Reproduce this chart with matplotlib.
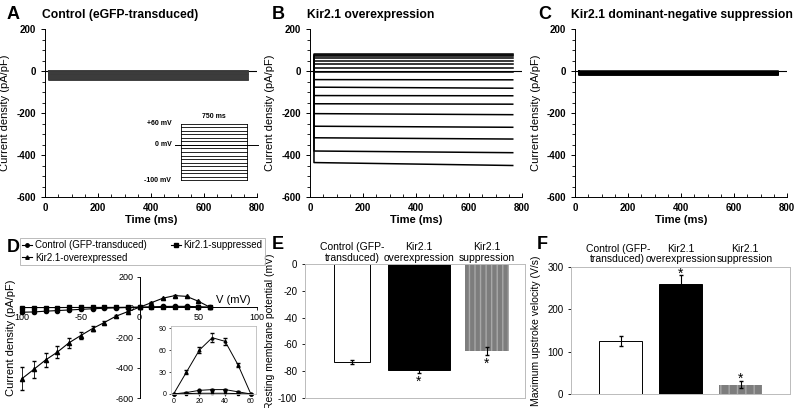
import matplotlib.pyplot as plt
import numpy as np
from matplotlib.ticker import MultipleLocator
from matplotlib.lines import Line2D

plt.rcParams['font.family'] = ['Liberation Sans', 'DejaVu Sans']
plt.rcParams['axes.unicode_minus'] = False

# voltage steps and current traces (pA/pF)
steps_mv = list(range(-100, 70, 10))
ctrl_trace = [-45, -42, -39, -36, -33, -30, -27, -24, -21, -18, -15, -12, -9, -6, -4, -2, 0]
kir_start = [-436, -381, -318, -263, -203, -156, -117, -77, -41, -3, 13, 33, 49, 61, 72, 77, 80]
kir_end = [-450, -389, -324, -268, -208, -158, -118, -82, -42, -3, 13, 33, 49, 61, 72, 77, 80]
dn_trace = [-18, -17, -16, -15, -14, -13, -12, -11, -10, -9, -8, -7, -6, -5, -4, -3, -2]
t_on, t_off = 15, 765
pulse_ms = 750

# I-V relation
iv_ctrl = [-33, -31, -26, -22, -18, -14, -10, -7, -4, -2, 0, 2, 5, 6, 6, 3, 0]
iv_ctrl_err = [4, 4, 3, 3, 2, 2, 2, 1, 1, 1, 0, 1, 1, 1, 1, 1, 0]
iv_sup = [-2, -2, -2, -2, -1.5, -1.5, -1, -1, -1, 0, 0, 0.5, 1, 1, 1, 0.5, 0]
iv_over = [-472, -411, -349, -297, -235, -187, -141, -101, -59, -29, 0, 30, 60, 77, 72, 40, 0]
iv_over_err = [75, 55, 45, 38, 32, 25, 18, 12, 8, 5, 0, 3, 4, 6, 5, 3, 0]
iv_xticks = [-100, -50, 0, 50, 100]
iv_xticklabels = ["100", "-50", "0", "50", "100"]

# bar panels
groups = ["Control (GFP-\ntransduced)", "Kir2.1\noverexpression", "Kir2.1\nsuppression"]
rmp = [-73, -79, -65]
rmp_err = [1.5, 2, 2.7]
vmax = [126, 261, 22]
vmax_err = [12, 19, 8]

W, H = 800, 408


def box(l, t, r, b):
    return [l / W, 1 - b / H, (r - l) / W, (b - t) / H]


fig = plt.figure(figsize=(8, 4.08), dpi=100)

# ---- A, B, C: current traces ----
trace_sets = [
    ("A", "Control (eGFP-transduced)", ctrl_trace, ctrl_trace, '#3a3a3a', 45, 7, 42, 10),
    ("B", "Kir2.1 overexpression", kir_start, kir_end, 'black', 310, 272, 307, 275),
    ("C", "Kir2.1 dominant-negative suppression", dn_trace, dn_trace, 'black', 575, 538, 571, 541),
]
for letter, title, starts, ends, col, left, lx, tx, ylx in trace_sets:
    ax = fig.add_axes(box(left, 29, left + 212, 197))
    ax.axhline(0, color='black', lw=0.8)
    for s, e in zip(starts, ends):
        ax.plot([t_on, t_on, t_off], [0, s, e], color=col, lw=1.1)
    ax.set_xlim(0, 800)
    ax.set_ylim(-600, 200)
    ax.set_xticks([0, 200, 400, 600, 800])
    ax.set_yticks([200, 0, -200, -400, -600])
    ax.xaxis.set_minor_locator(MultipleLocator(50))
    ax.yaxis.set_minor_locator(MultipleLocator(50))
    ax.tick_params(axis='x', which='both', direction='in', labelsize=7, pad=4)
    ax.tick_params(axis='y', which='both', direction='out', labelsize=7)
    ax.tick_params(which='major', length=3, width=0.7)
    ax.tick_params(which='minor', length=2, width=0.6)
    for lab in ax.get_xticklabels() + ax.get_yticklabels():
        lab.set_fontweight('bold')
    for sp in ['top', 'right']:
        ax.spines[sp].set_visible(False)
    for sp in ['left', 'bottom']:
        ax.spines[sp].set_linewidth(0.7)
    ax.set_xlabel("Time (ms)", fontsize=8, fontweight='bold', labelpad=2)
    ax.set_ylabel("Current density (pA/pF)", fontsize=8)
    ax.yaxis.set_label_coords((ylx - left) / 212, 0.5)
    fig.text(lx / W, 1 - 19 / H, letter, fontsize=13, fontweight='bold')
    fig.text(tx / W, 1 - 18 / H, title, fontsize=8.7, fontweight='bold')

# voltage protocol inset in A
pa = fig.add_axes(box(170, 120, 262, 184))
pa.set_xlim(-125, 920)
pa.set_ylim(-111, 71)
pa.axis('off')
for v in steps_mv:
    pa.plot([0, pulse_ms], [v, v], color='black', lw=0.6)
pa.plot([0, 0], [min(steps_mv), max(steps_mv)], color='black', lw=0.6)
pa.plot([pulse_ms, pulse_ms], [min(steps_mv), max(steps_mv)], color='black', lw=0.6)
pa.plot([-70, 875], [0, 0], color='black', lw=0.7)
pa.text(-110, 60, "+60 mV", fontsize=5, fontweight='bold', ha='right', va='center', clip_on=False)
pa.text(-110, 0, "0 mV", fontsize=5, fontweight='bold', ha='right', va='center', clip_on=False)
pa.text(-110, -100, "-100 mV", fontsize=5, fontweight='bold', ha='right', va='center', clip_on=False)
pa.text(pulse_ms / 2, 82, "750 ms", fontsize=5, fontweight='bold', ha='center', va='center', clip_on=False)

# ---- D: I-V curve ----
ad = fig.add_axes(box(22, 277, 257, 398))
mk = dict(color='black', lw=0.8, ms=3, capsize=1.5, elinewidth=0.6, clip_on=False)
ad.errorbar(steps_mv, iv_ctrl, yerr=iv_ctrl_err, marker='o', **mk)
ad.errorbar(steps_mv, iv_sup, marker='s', **mk)
ad.errorbar(steps_mv, iv_over, yerr=iv_over_err, marker='^', **mk)
ad.set_xlim(-100, 100)
ad.set_ylim(-600, 200)
ad.spines['left'].set_position(('data', 0))
ad.spines['bottom'].set_position(('data', 0))
for sp in ['top', 'right']:
    ad.spines[sp].set_visible(False)
for sp in ['left', 'bottom']:
    ad.spines[sp].set_linewidth(0.7)
ad.set_xticks(iv_xticks)
ad.set_xticklabels(iv_xticklabels)
ad.set_yticks([200, 0, -200, -400, -600])
ad.tick_params(labelsize=6.5, length=2.5, width=0.6, pad=2)
ad.text(95, 18, "V (mV)", fontsize=8, ha='right', va='bottom')
fig.text(11 / W, 1 - 338 / H, "Current density (pA/pF)", fontsize=8, rotation=90,
         ha='center', va='center')
fig.text(7 / W, 1 - 252 / H, "D", fontsize=13, fontweight='bold')

handles = [
    Line2D([], [], color='black', marker='o', ms=2.5, lw=0.8),
    Line2D([], [], color='black', marker='^', ms=2.5, lw=0.8),
    Line2D([], [], color='black', marker='s', ms=2.5, lw=0.8),
]
labels = ["Control (GFP-transduced)", "Kir2.1-overexpressed", "Kir2.1-suppressed"]
leg = fig.legend(handles, labels, loc='upper left', ncol=2, fontsize=7,
                 bbox_to_anchor=box(20, 238, 265, 267), mode='expand',
                 frameon=True, fancybox=False, edgecolor='#aaaaaa',
                 handlelength=1.0, handletextpad=0.3, columnspacing=0.3,
                 borderpad=0.25, labelspacing=0.25, borderaxespad=0)
leg.get_frame().set_linewidth(0.7)

# inset of D
ai = fig.add_axes(box(171, 326, 256, 394))
pos = [i for i, v in enumerate(steps_mv) if v >= 0]
vp = [steps_mv[i] for i in pos]
mi = dict(color='black', lw=0.7, ms=2, capsize=1.2, elinewidth=0.5, clip_on=False)
ai.errorbar(vp, [iv_ctrl[i] for i in pos], yerr=[iv_ctrl_err[i] for i in pos], marker='o', **mi)
ai.errorbar(vp, [iv_sup[i] for i in pos], marker='s', **mi)
ai.errorbar(vp, [iv_over[i] for i in pos], yerr=[iv_over_err[i] for i in pos], marker='^', **mi)
ai.set_xlim(-2, 64)
ai.set_ylim(0, 93)
ai.set_xticks([0, 20, 40, 60])
ai.set_yticks([0, 30, 60, 90])
ai.tick_params(labelsize=5, length=1.5, width=0.5, pad=1.5)
for sp in ai.spines.values():
    sp.set_color('#bbbbbb')
    sp.set_linewidth(0.6)

# ---- E: resting membrane potential ----
ae = fig.add_axes(box(305, 264, 525, 398))
e_w = [0.54, 0.92, 0.67]
e_px = [352, 419, 487]
e_x = [(p - 352) / 67 for p in e_px]
ae.bar(e_x[0], rmp[0], width=e_w[0], color='white', edgecolor='black', lw=0.7)
ae.bar(e_x[1], rmp[1], width=e_w[1], color='black', edgecolor='black', lw=0.7)
ae.bar(e_x[2], rmp[2], width=e_w[2], color='#7d7d7d', edgecolor='#a8a8a8', hatch='|||', lw=0.0)
ae.errorbar(e_x, rmp, yerr=rmp_err, fmt='none', ecolor='black', elinewidth=0.8, capsize=1.5)
ae.text(e_x[1], -88, "*", fontsize=10, ha='center', va='center')
ae.text(e_x[2], -74.5, "*", fontsize=10, ha='center', va='center')
ae.set_xlim((305 - 352) / 67, (525 - 352) / 67)
ae.set_ylim(-100, 0)
ae.set_yticks([0, -20, -40, -60, -80, -100])
ae.set_xticks([])
ae.tick_params(labelsize=7, length=2, width=0.6)
for sp in ae.spines.values():
    sp.set_color('#bbbbbb')
    sp.set_linewidth(0.7)
ae.set_ylabel("Resting membrane potential (mV)", fontsize=7.5)
ae.yaxis.set_label_coords((275 - 305) / 220, 0.5)
for xx, g in zip(e_x, groups):
    ae.text(xx, 0.8, g, fontsize=7.5, ha='center', va='bottom', linespacing=1.1)
fig.text(272 / W, 1 - 249 / H, "E", fontsize=13, fontweight='bold')

# ---- F: maximum upstroke velocity ----
af = fig.add_axes(box(571, 267, 790, 394))
f_x = [0, 1, 2]
af.bar(f_x[0], vmax[0], width=0.72, color='white', edgecolor='black', lw=0.7)
af.bar(f_x[1], vmax[1], width=0.72, color='black', edgecolor='black', lw=0.7)
af.bar(f_x[2], vmax[2], width=0.72, color='#7d7d7d', edgecolor='#a8a8a8', hatch='||', lw=0.0)
af.errorbar(f_x, vmax, yerr=vmax_err, fmt='none', ecolor='black', elinewidth=0.8, capsize=1.5)
af.text(f_x[1], 284, "*", fontsize=10, ha='center', va='center')
af.text(f_x[2], 35, "*", fontsize=10, ha='center', va='center')
af.set_xlim(-0.83, 2.82)
af.set_ylim(0, 300)
af.set_yticks([0, 100, 200, 300])
af.set_xticks([])
af.tick_params(labelsize=7, length=2, width=0.6)
for sp in af.spines.values():
    sp.set_color('#bbbbbb')
    sp.set_linewidth(0.7)
af.set_ylabel("Maximum upstroke velocity (V/s)", fontsize=7.5)
af.yaxis.set_label_coords((541 - 571) / 219, 0.5)
for xx, g in zip([-0.05, 1.0, 2.07], groups):
    af.text(xx, 306, g, fontsize=7.5, ha='center', va='bottom', linespacing=1.1)
fig.text(537 / W, 1 - 249 / H, "F", fontsize=13, fontweight='bold')

fig.savefig("out.png", dpi=100)
